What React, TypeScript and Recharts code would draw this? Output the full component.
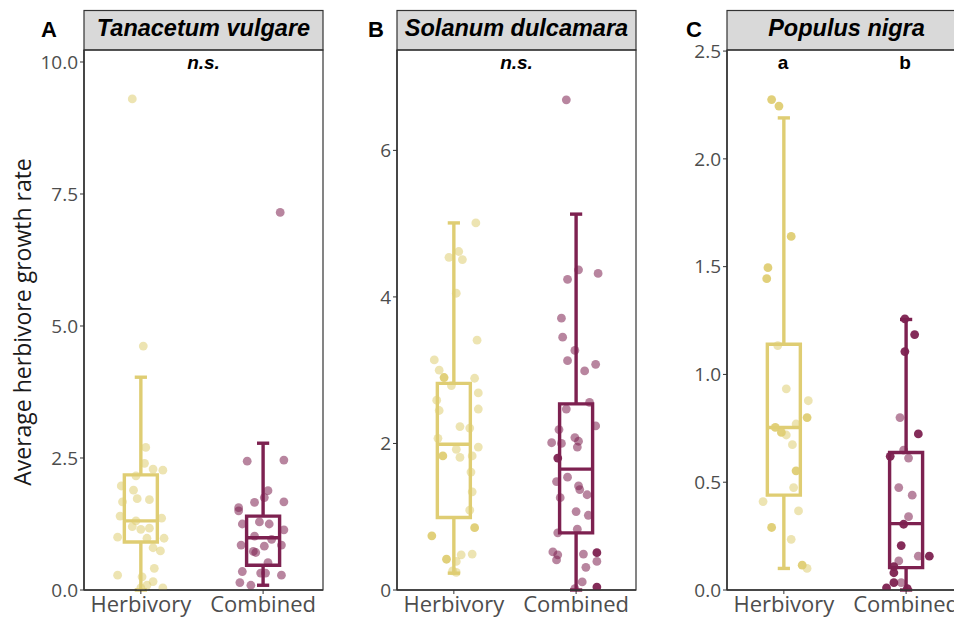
import { ScatterChart, Scatter, XAxis, YAxis, ReferenceArea, ReferenceLine } from 'recharts'

const GROUPS = ['Herbivory', 'Combined']
const HERB = '#dfcd73'
const COMB = '#7d2150'

// box stats: [lower whisker, q1, median, q3, upper whisker]
const tvHerbBox = [0, 0.91, 1.31, 2.18, 4.03]
const tvCombBox = [0.09, 0.47, 0.99, 1.40, 2.78]
const sdHerbBox = [0.23, 0.99, 1.99, 2.82, 5.01]
const sdCombBox = [0, 0.78, 1.65, 2.54, 5.13]
const pnHerbBox = [0.10, 0.44, 0.754, 1.14, 2.19]
const pnCombBox = [0, 0.104, 0.308, 0.638, 1.255]

// jittered points: [x jitter, value]
const tvHerbPts = [
  [-0.07, 9.30], [0.02, 4.62], [0.04, 2.70], [0.03, 2.40], [0.10, 2.29], [0.18, 2.27], [-0.04, 2.16],
  [-0.16, 1.97], [-0.06, 1.89], [-0.03, 1.73], [0.07, 1.71], [-0.15, 1.67], [-0.17, 1.40], [0.17, 1.36],
  [-0.04, 1.31], [-0.07, 1.20], [0, 1.15], [0.07, 1.17], [-0.19, 1.00], [0.05, 0.98], [0.19, 0.98],
  [0.10, 0.80], [0.16, 0.74], [0.11, 0.41], [-0.19, 0.28], [0.01, 0.25], [0.10, 0.16], [0.05, 0.09],
  [0.18, 0.04], [0, 0.04],
]
const tvCombPts = [
  [0.14, 7.15], [-0.13, 2.44], [0.17, 2.46], [0.04, 1.88], [0.01, 1.75], [-0.07, 1.66], [0.17, 1.67],
  [-0.20, 1.56], [-0.20, 1.50], [-0.03, 1.29], [-0.17, 1.25], [0.05, 1.25], [0.17, 1.14], [-0.07, 1.02],
  [0.07, 0.96], [-0.18, 0.85], [0.15, 0.85], [0.01, 0.83], [-0.08, 0.73], [-0.06, 0.71], [0.04, 0.52],
  [-0.17, 0.35], [-0.02, 0.32], [0.02, 0.32], [0.15, 0.28], [-0.19, 0.14], [-0.10, 0.09],
]
const sdHerbPts = [
  [0.18, 5.01], [0.04, 4.62], [-0.04, 4.54], [0.07, 4.51], [0.02, 4.05], [0.19, 3.41], [-0.16, 3.14],
  [-0.12, 3.00], [0.17, 2.89], [-0.02, 2.79], [0.20, 2.69], [-0.14, 2.59], [0.20, 2.47], [-0.12, 2.45],
  [0.05, 2.23], [0.13, 2.21], [-0.13, 2.07], [0.02, 1.92], [0.20, 1.95], [0.05, 1.81], [0.15, 1.83],
  [0.14, 1.61], [0.15, 1.34], [0.13, 1.09], [0.06, 0.48], [0.15, 0.49], [0.02, 0.39], [0.02, 0.24],
  [-0.01, 0.26],
]
const sdHerbDark = [[-0.08, 2.90], [-0.09, 1.83], [0.17, 0.85], [-0.18, 0.74], [-0.06, 0.42]]
const sdCombPts = [
  [-0.08, 6.69], [0.02, 4.37], [0.18, 4.32], [-0.07, 4.24], [-0.12, 3.71], [-0.11, 3.45], [-0.01, 3.27],
  [-0.07, 3.13], [0.16, 3.08], [0.07, 2.99], [0.11, 2.56], [-0.08, 2.47], [-0.14, 2.19], [0.16, 2.24],
  [-0.20, 2.01], [-0.12, 2.00], [-0.01, 2.08], [0.02, 2.03], [0.01, 1.95], [-0.07, 1.54], [-0.16, 1.48],
  [0.02, 1.42], [0.03, 1.37], [-0.13, 1.26], [0.09, 1.30], [0, 1.07], [0.10, 1.02], [0.01, 0.83],
  [-0.15, 0.78], [-0.19, 0.52], [-0.15, 0.48], [-0.16, 0.41], [0.06, 0.49], [0.17, 0.39], [0.08, 0.31],
  [0.05, 0.11], [-0.01, 0.02],
]
const sdCombDark = [[-0.15, 1.80], [0.17, 0.51], [0.17, 0.04]]
const pnHerbPts = [
  [-0.05, 1.134], [0.02, 0.933], [0.20, 0.878], [0.02, 0.719], [0.10, 0.77], [0.07, 0.674], [0.08, 0.475],
  [-0.17, 0.41], [0.12, 0.367], [0.06, 0.235], [0.19, 0.10],
]
const pnHerbDark = [
  [-0.10, 2.275], [-0.04, 2.245], [0.06, 1.64], [-0.13, 1.495], [-0.14, 1.444], [0.19, 0.80], [-0.07, 0.754],
  [-0.02, 0.731], [0.10, 0.553], [-0.10, 0.29], [0.15, 0.115],
]
const pnCombPts = [
  [-0.05, 0.80], [-0.02, 0.649], [0.02, 0.612], [-0.06, 0.475], [0.05, 0.44], [0.02, 0.34], [0.10, 0.157],
  [-0.06, 0.135], [-0.04, 0.034],
]
const pnCombDark = [
  [-0.01, 1.258], [0.07, 1.185], [-0.01, 1.106], [0.10, 0.724], [-0.13, 0.62], [-0.02, 0.305], [-0.04, 0.206],
  [0.19, 0.157], [-0.10, 0.108], [-0.10, 0.08], [-0.10, 0.034], [-0.16, 0.01], [0.01, 0.006],
]

const tvTicks = [0, 2.5, 5, 7.5, 10]
const sdTicks = [0, 2, 4, 6]
const pnTicks = [0, 0.5, 1, 1.5, 2, 2.5]

const H = 619
const TOP = 50
const X_DOMAIN = [0.535, 2.49]
const AXIS_FONT = "'Open Sans', sans-serif"
const BOLD_FONT = "'Liberation Sans', Arial, sans-serif"

function toData(pts: number[][], pos: number) {
  return pts.map(([j, v]) => ({ x: pos + j, y: v }))
}

function dot(color: string, op: number) {
  return (p: any) => <circle cx={p.cx} cy={p.cy} r={4.4} fill={color} fillOpacity={op} />
}

function boxMarks(pos: number, b: number[], color: string, k: string) {
  const hw = 0.135, cw = 0.05
  const s = { stroke: color, strokeWidth: 3.4 }
  return [
    <ReferenceLine key={k + 'a'} segment={[{ x: pos, y: b[0] }, { x: pos, y: b[1] }]} {...s} />,
    <ReferenceLine key={k + 'b'} segment={[{ x: pos, y: b[3] }, { x: pos, y: b[4] }]} {...s} />,
    <ReferenceLine key={k + 'c'} segment={[{ x: pos - cw, y: b[0] }, { x: pos + cw, y: b[0] }]} {...s} />,
    <ReferenceLine key={k + 'd'} segment={[{ x: pos - cw, y: b[4] }, { x: pos + cw, y: b[4] }]} {...s} />,
    <ReferenceArea key={k + 'e'} x1={pos - hw} x2={pos + hw} y1={b[1]} y2={b[3]} fill="none" fillOpacity={0} {...s} />,
    <ReferenceLine key={k + 'f'} segment={[{ x: pos - hw, y: b[2] }, { x: pos + hw, y: b[2] }]} {...s} />,
  ]
}

interface PanelProps {
  left: number; width: number; yWidth: number; yMax: number; ticks: number[]
  fmt: (v: number) => string
  herbBox: number[]; combBox: number[]
  herbPts: number[][]; combPts: number[][]; herbDark: number[][]; combDark: number[][]
}

function Panel(p: PanelProps) {
  return (
    <div style={{ position: 'absolute', left: p.left, top: 0 }}>
      <ScatterChart width={p.width} height={H} margin={{ top: TOP, right: 0, bottom: 0, left: 0 }}>
        <XAxis type="number" dataKey="x" domain={X_DOMAIN} ticks={[1, 2]} interval={0} allowDataOverflow
          tickFormatter={(v: number) => GROUPS[v - 1]} height={29} tickSize={4} tickMargin={2}
          tick={{ fontSize: 22, fill: '#4d4d4d', fontFamily: AXIS_FONT }}
          tickLine={{ stroke: '#333' }} axisLine={{ stroke: '#333', strokeWidth: 1.5 }} />
        <YAxis type="number" dataKey="y" domain={[0, p.yMax]} ticks={p.ticks} interval={0} allowDataOverflow
          tickFormatter={p.fmt} width={p.yWidth} tickSize={4} tickMargin={2}
          tick={{ fontSize: 19, fill: '#4d4d4d', fontFamily: AXIS_FONT }}
          tickLine={{ stroke: '#333' }} axisLine={{ stroke: '#333', strokeWidth: 1.5 }} />
        {boxMarks(1, p.herbBox, HERB, 'h')}
        {boxMarks(2, p.combBox, COMB, 'c')}
        <Scatter data={toData(p.herbPts, 1)} shape={dot(HERB, 0.55)} isAnimationActive={false} />
        <Scatter data={toData(p.herbDark, 1)} shape={dot(HERB, 0.95)} isAnimationActive={false} />
        <Scatter data={toData(p.combPts, 2)} shape={dot(COMB, 0.55)} isAnimationActive={false} />
        <Scatter data={toData(p.combDark, 2)} shape={dot(COMB, 0.95)} isAnimationActive={false} />
      </ScatterChart>
    </div>
  )
}

const panels = [
  { x0: 84, x1: 323, letter: 'A', letterX: 41, title: 'Tanacetum vulgare' },
  { x0: 397, x1: 636, letter: 'B', letterX: 368, title: 'Solanum dulcamara' },
  { x0: 727, x1: 966, letter: 'C', letterX: 686, title: 'Populus nigra' },
]

export default function App() {
  return (
    <div style={{ position: 'absolute', left: 0, top: 0, width: 954, height: H, overflow: 'hidden', background: '#fff' }}>
      <Panel left={0} width={323} yWidth={84} yMax={10.227} ticks={tvTicks} fmt={(v) => v.toFixed(1)}
        herbBox={tvHerbBox} combBox={tvCombBox} herbPts={tvHerbPts} combPts={tvCombPts} herbDark={[]} combDark={[]} />
      <Panel left={330} width={306} yWidth={67} yMax={7.37} ticks={sdTicks} fmt={(v) => String(v)}
        herbBox={sdHerbBox} combBox={sdCombBox} herbPts={sdHerbPts} combPts={sdCombPts} herbDark={sdHerbDark} combDark={sdCombDark} />
      <Panel left={660} width={306} yWidth={67} yMax={2.505} ticks={pnTicks} fmt={(v) => v.toFixed(1)}
        herbBox={pnHerbBox} combBox={pnCombBox} herbPts={pnHerbPts} combPts={pnCombPts} herbDark={pnHerbDark} combDark={pnCombDark} />
      <svg width={954} height={H} style={{ position: 'absolute', left: 0, top: 0, pointerEvents: 'none' }}>
        {panels.map((q) => (
          <g key={q.letter}>
            <rect x={q.x0} y={10.5} width={q.x1 - q.x0} height={39.5} fill="#d9d9d9" stroke="#333" strokeWidth={1.2} />
            <rect x={q.x0} y={50} width={q.x1 - q.x0} height={540} fill="none" stroke="#333" strokeWidth={1.2} />
            <text x={(q.x0 + q.x1) / 2} y={36} textAnchor="middle" fontFamily={BOLD_FONT} fontWeight="bold"
              fontStyle="italic" fontSize={23.5} fill="#000">{q.title}</text>
            <text x={q.letterX} y={37} fontFamily={BOLD_FONT} fontWeight="bold" fontSize={22} fill="#000">{q.letter}</text>
          </g>
        ))}
        <text x={203.5} y={69} textAnchor="middle" fontFamily={BOLD_FONT} fontWeight="bold" fontStyle="italic" fontSize={19}>n.s.</text>
        <text x={516.5} y={69} textAnchor="middle" fontFamily={BOLD_FONT} fontWeight="bold" fontStyle="italic" fontSize={19}>n.s.</text>
        <text x={783} y={69} textAnchor="middle" fontFamily={BOLD_FONT} fontWeight="bold" fontSize={19}>a</text>
        <text x={905} y={69} textAnchor="middle" fontFamily={BOLD_FONT} fontWeight="bold" fontSize={19}>b</text>
        <text x={31} y={322} transform="rotate(-90 31 322)" textAnchor="middle" fontFamily={AXIS_FONT} fontSize={23} fill="#1a1a1a">
          Average herbivore growth rate
        </text>
      </svg>
    </div>
  )
}
